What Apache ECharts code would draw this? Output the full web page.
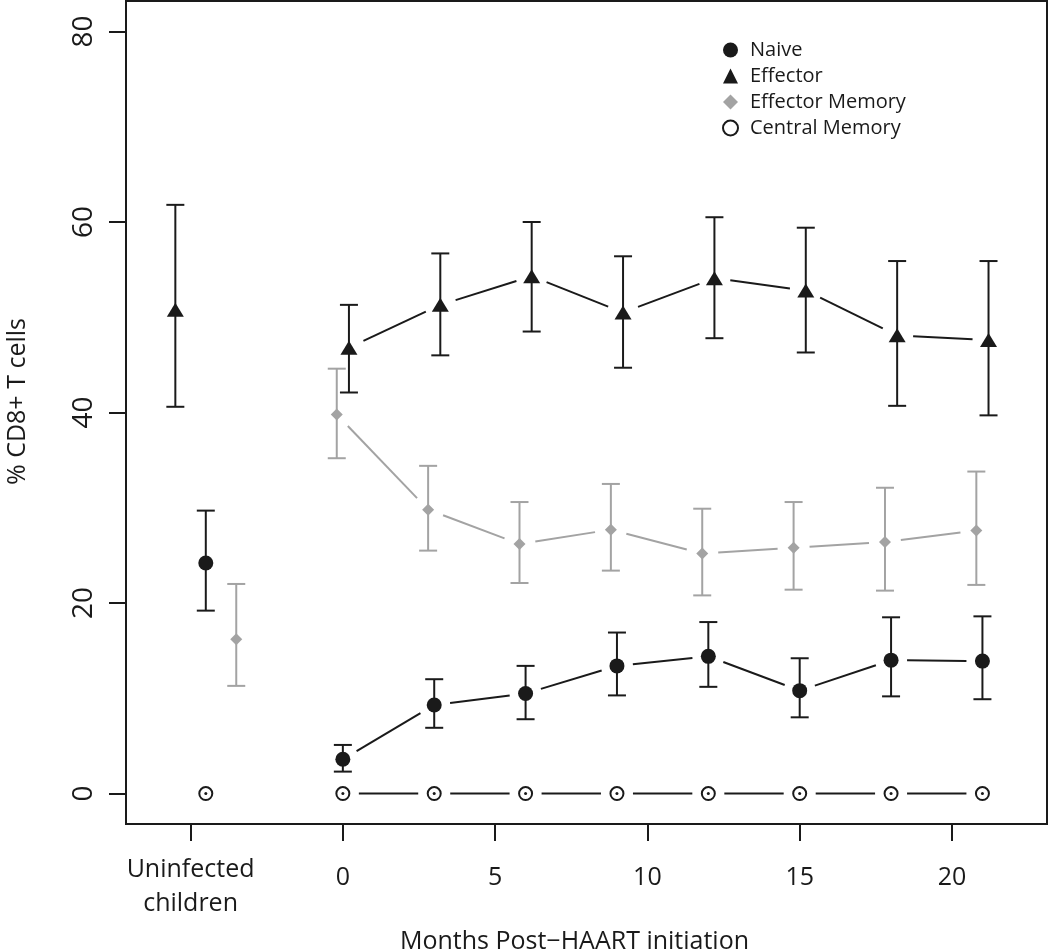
<!DOCTYPE html>
<html>
<head>
<meta charset="utf-8">
<script src="https://cdn.jsdelivr.net/npm/echarts@6/dist/echarts.min.js"></script>
<style>html,body{margin:0;padding:0;background:#fff}#chart{width:1050px;height:951px}</style>
</head>
<body>
<div id="chart"></div>
<script>
// x positions: uninfected group first, then months post-HAART (with small dodge)
const naiveX = [-4.5, 0, 3, 6, 9, 12, 15, 18, 21];
const naiveMean = [24.2, 3.6, 9.3, 10.5, 13.4, 14.4, 10.8, 14.0, 13.9];
const naiveLow = [19.2, 2.3, 6.9, 7.8, 10.3, 11.2, 8.0, 10.2, 9.9];
const naiveHigh = [29.7, 5.1, 12.0, 13.4, 16.9, 18.0, 14.2, 18.5, 18.6];

const effX = [-5.5, 0.2, 3.2, 6.2, 9.2, 12.2, 15.2, 18.2, 21.2];
const effMean = [50.8, 46.8, 51.3, 54.3, 50.5, 54.1, 52.8, 48.1, 47.6];
const effLow = [40.6, 42.1, 46.0, 48.5, 44.7, 47.8, 46.3, 40.7, 39.7];
const effHigh = [61.8, 51.3, 56.7, 60.0, 56.4, 60.5, 59.4, 55.9, 55.9];

const emX = [-3.5, -0.2, 2.8, 5.8, 8.8, 11.8, 14.8, 17.8, 20.8];
const emMean = [16.2, 39.8, 29.8, 26.2, 27.7, 25.2, 25.8, 26.4, 27.6];
const emLow = [11.3, 35.2, 25.5, 22.1, 23.4, 20.8, 21.4, 21.3, 21.9];
const emHigh = [22.0, 44.6, 34.4, 30.6, 32.5, 29.9, 30.6, 32.1, 33.8];

const cmX = [-4.5, 0, 3, 6, 9, 12, 15, 18, 21];
const cmMean = [0, 0, 0, 0, 0, 0, 0, 0, 0];

const xTicks = [-5, 0, 5, 10, 15, 20];
const yTicks = [0, 20, 40, 60, 80];

const ink = '#1a1a1a';
const grey = '#a3a3a3';
const font = 'Open Sans';

// segments between consecutive month points (uninfected point is not joined)
function segs(xs, ys) {
    const out = [];
    for (let i = 1; i < xs.length - 1; i++) out.push([xs[i], ys[i], xs[i + 1], ys[i + 1]]);
    return out;
}
function bars(xs, lo, hi) {
    return xs.map((x, i) => [x, lo[i], hi[i]]);
}
function pts(xs, ys) {
    return xs.map((x, i) => [x, ys[i]]);
}

function segRender(color, gap) {
    return function (params, api) {
        const a = api.coord([api.value(0), api.value(1)]);
        const b = api.coord([api.value(2), api.value(3)]);
        const dx = b[0] - a[0], dy = b[1] - a[1];
        const len = Math.sqrt(dx * dx + dy * dy);
        const ux = dx / len, uy = dy / len;
        return {
            type: 'line',
            shape: { x1: a[0] + ux * gap, y1: a[1] + uy * gap, x2: b[0] - ux * gap, y2: b[1] - uy * gap },
            style: { stroke: color, lineWidth: 2 }
        };
    };
}
function barRender(color) {
    return function (params, api) {
        const x = api.value(0);
        const lo = api.coord([x, api.value(1)]);
        const hi = api.coord([x, api.value(2)]);
        const hw = 9;
        const st = { stroke: color, lineWidth: 2 };
        return {
            type: 'group',
            children: [
                { type: 'line', shape: { x1: lo[0], y1: lo[1], x2: hi[0], y2: hi[1] }, style: st },
                { type: 'line', shape: { x1: hi[0] - hw, y1: hi[1], x2: hi[0] + hw, y2: hi[1] }, style: st },
                { type: 'line', shape: { x1: lo[0] - hw, y1: lo[1], x2: lo[0] + hw, y2: lo[1] }, style: st }
            ]
        };
    };
}

const chart = echarts.init(document.getElementById('chart'));
chart.setOption({
    animation: false,
    backgroundColor: '#fff',
    textStyle: { fontFamily: font },
    grid: {
        left: 126, right: 3, top: 1, bottom: 127, outerBoundsMode: 'none', containLabel: false,
        show: true, borderColor: ink, borderWidth: 2, backgroundColor: 'transparent'
    },
    legend: {
        orient: 'vertical', left: 722, top: 40, padding: 0,
        itemWidth: 15, itemHeight: 15, itemGap: 6,
        textStyle: { fontFamily: font, fontSize: 20, color: ink, lineHeight: 20, padding: [0, 0, 0, 7] },
        data: ['Naive', 'Effector', 'Effector Memory', 'Central Memory']
    },
    xAxis: {
        type: 'value', min: -7.12, max: 23.12,
        name: 'Months Post\u2212HAART initiation', nameLocation: 'middle', nameGap: 105,
        nameTextStyle: { fontFamily: font, fontSize: 25, color: ink, padding: [0, 24, 0, 0] },
        axisLine: { show: false, onZero: false },
        splitLine: { show: false },
        axisTick: { show: true, length: 17, customValues: xTicks, lineStyle: { color: ink, width: 2 } },
        axisLabel: {
            customValues: xTicks, margin: 29, color: ink,
            formatter: v => v === -5 ? '{u|Uninfected}\n{u|children}' : '{n|' + v + '}',
            rich: {
                u: { fontFamily: font, fontSize: 25, lineHeight: 34, color: ink },
                n: { fontFamily: font, fontSize: 25, lineHeight: 34, color: ink, padding: [16, 0, 0, 0] }
            }
        }
    },
    yAxis: {
        type: 'value', min: -3.2, max: 83.2,
        name: '% CD8+ T cells', nameLocation: 'middle', nameGap: 96,
        nameTextStyle: { fontFamily: font, fontSize: 25, color: ink, padding: [0, 0, 0, 22] },
        axisLine: { show: false, onZero: false },
        splitLine: { show: false },
        axisTick: { show: true, length: 17, customValues: yTicks, lineStyle: { color: ink, width: 2 } },
        axisLabel: { customValues: yTicks, rotate: 90, margin: 28, fontFamily: font, fontSize: 28, color: ink }
    },
    series: [
        { type: 'custom', silent: true, z: 1, renderItem: segRender(ink, 16), data: segs(naiveX, naiveMean), encode: { x: [0, 2], y: [1, 3] } },
        { type: 'custom', silent: true, z: 1, renderItem: segRender(ink, 16), data: segs(effX, effMean), encode: { x: [0, 2], y: [1, 3] } },
        { type: 'custom', silent: true, z: 1, renderItem: segRender(grey, 16), data: segs(emX, emMean), encode: { x: [0, 2], y: [1, 3] } },
        { type: 'custom', silent: true, z: 1, renderItem: segRender(ink, 16), data: segs(cmX, cmMean), encode: { x: [0, 2], y: [1, 3] } },
        { type: 'custom', silent: true, z: 2, renderItem: barRender(ink), data: bars(naiveX, naiveLow, naiveHigh), encode: { x: 0, y: [1, 2] } },
        { type: 'custom', silent: true, z: 2, renderItem: barRender(ink), data: bars(effX, effLow, effHigh), encode: { x: 0, y: [1, 2] } },
        { type: 'custom', silent: true, z: 2, renderItem: barRender(grey), data: bars(emX, emLow, emHigh), encode: { x: 0, y: [1, 2] } },
        { name: 'Naive', type: 'scatter', z: 3, symbol: 'circle', symbolSize: 15, itemStyle: { color: ink, opacity: 1 }, data: pts(naiveX, naiveMean) },
        { name: 'Effector', type: 'scatter', z: 3, symbol: 'triangle', symbolSize: [17, 14], itemStyle: { color: ink, opacity: 1 }, data: pts(effX, effMean) },
        { name: 'Effector Memory', type: 'scatter', z: 3, symbol: 'diamond', symbolSize: 12, itemStyle: { color: grey, opacity: 1 }, data: pts(emX, emMean) },
        { name: 'Central Memory', type: 'scatter', z: 3, symbol: 'emptyCircle', symbolSize: 13, itemStyle: { color: ink, borderColor: ink, borderWidth: 2, opacity: 1 }, data: pts(cmX, cmMean) },
        { type: 'scatter', z: 4, silent: true, symbol: 'circle', symbolSize: 3, itemStyle: { color: ink, opacity: 1 }, data: pts(cmX, cmMean) }
    ]
});
</script>
</body>
</html>
